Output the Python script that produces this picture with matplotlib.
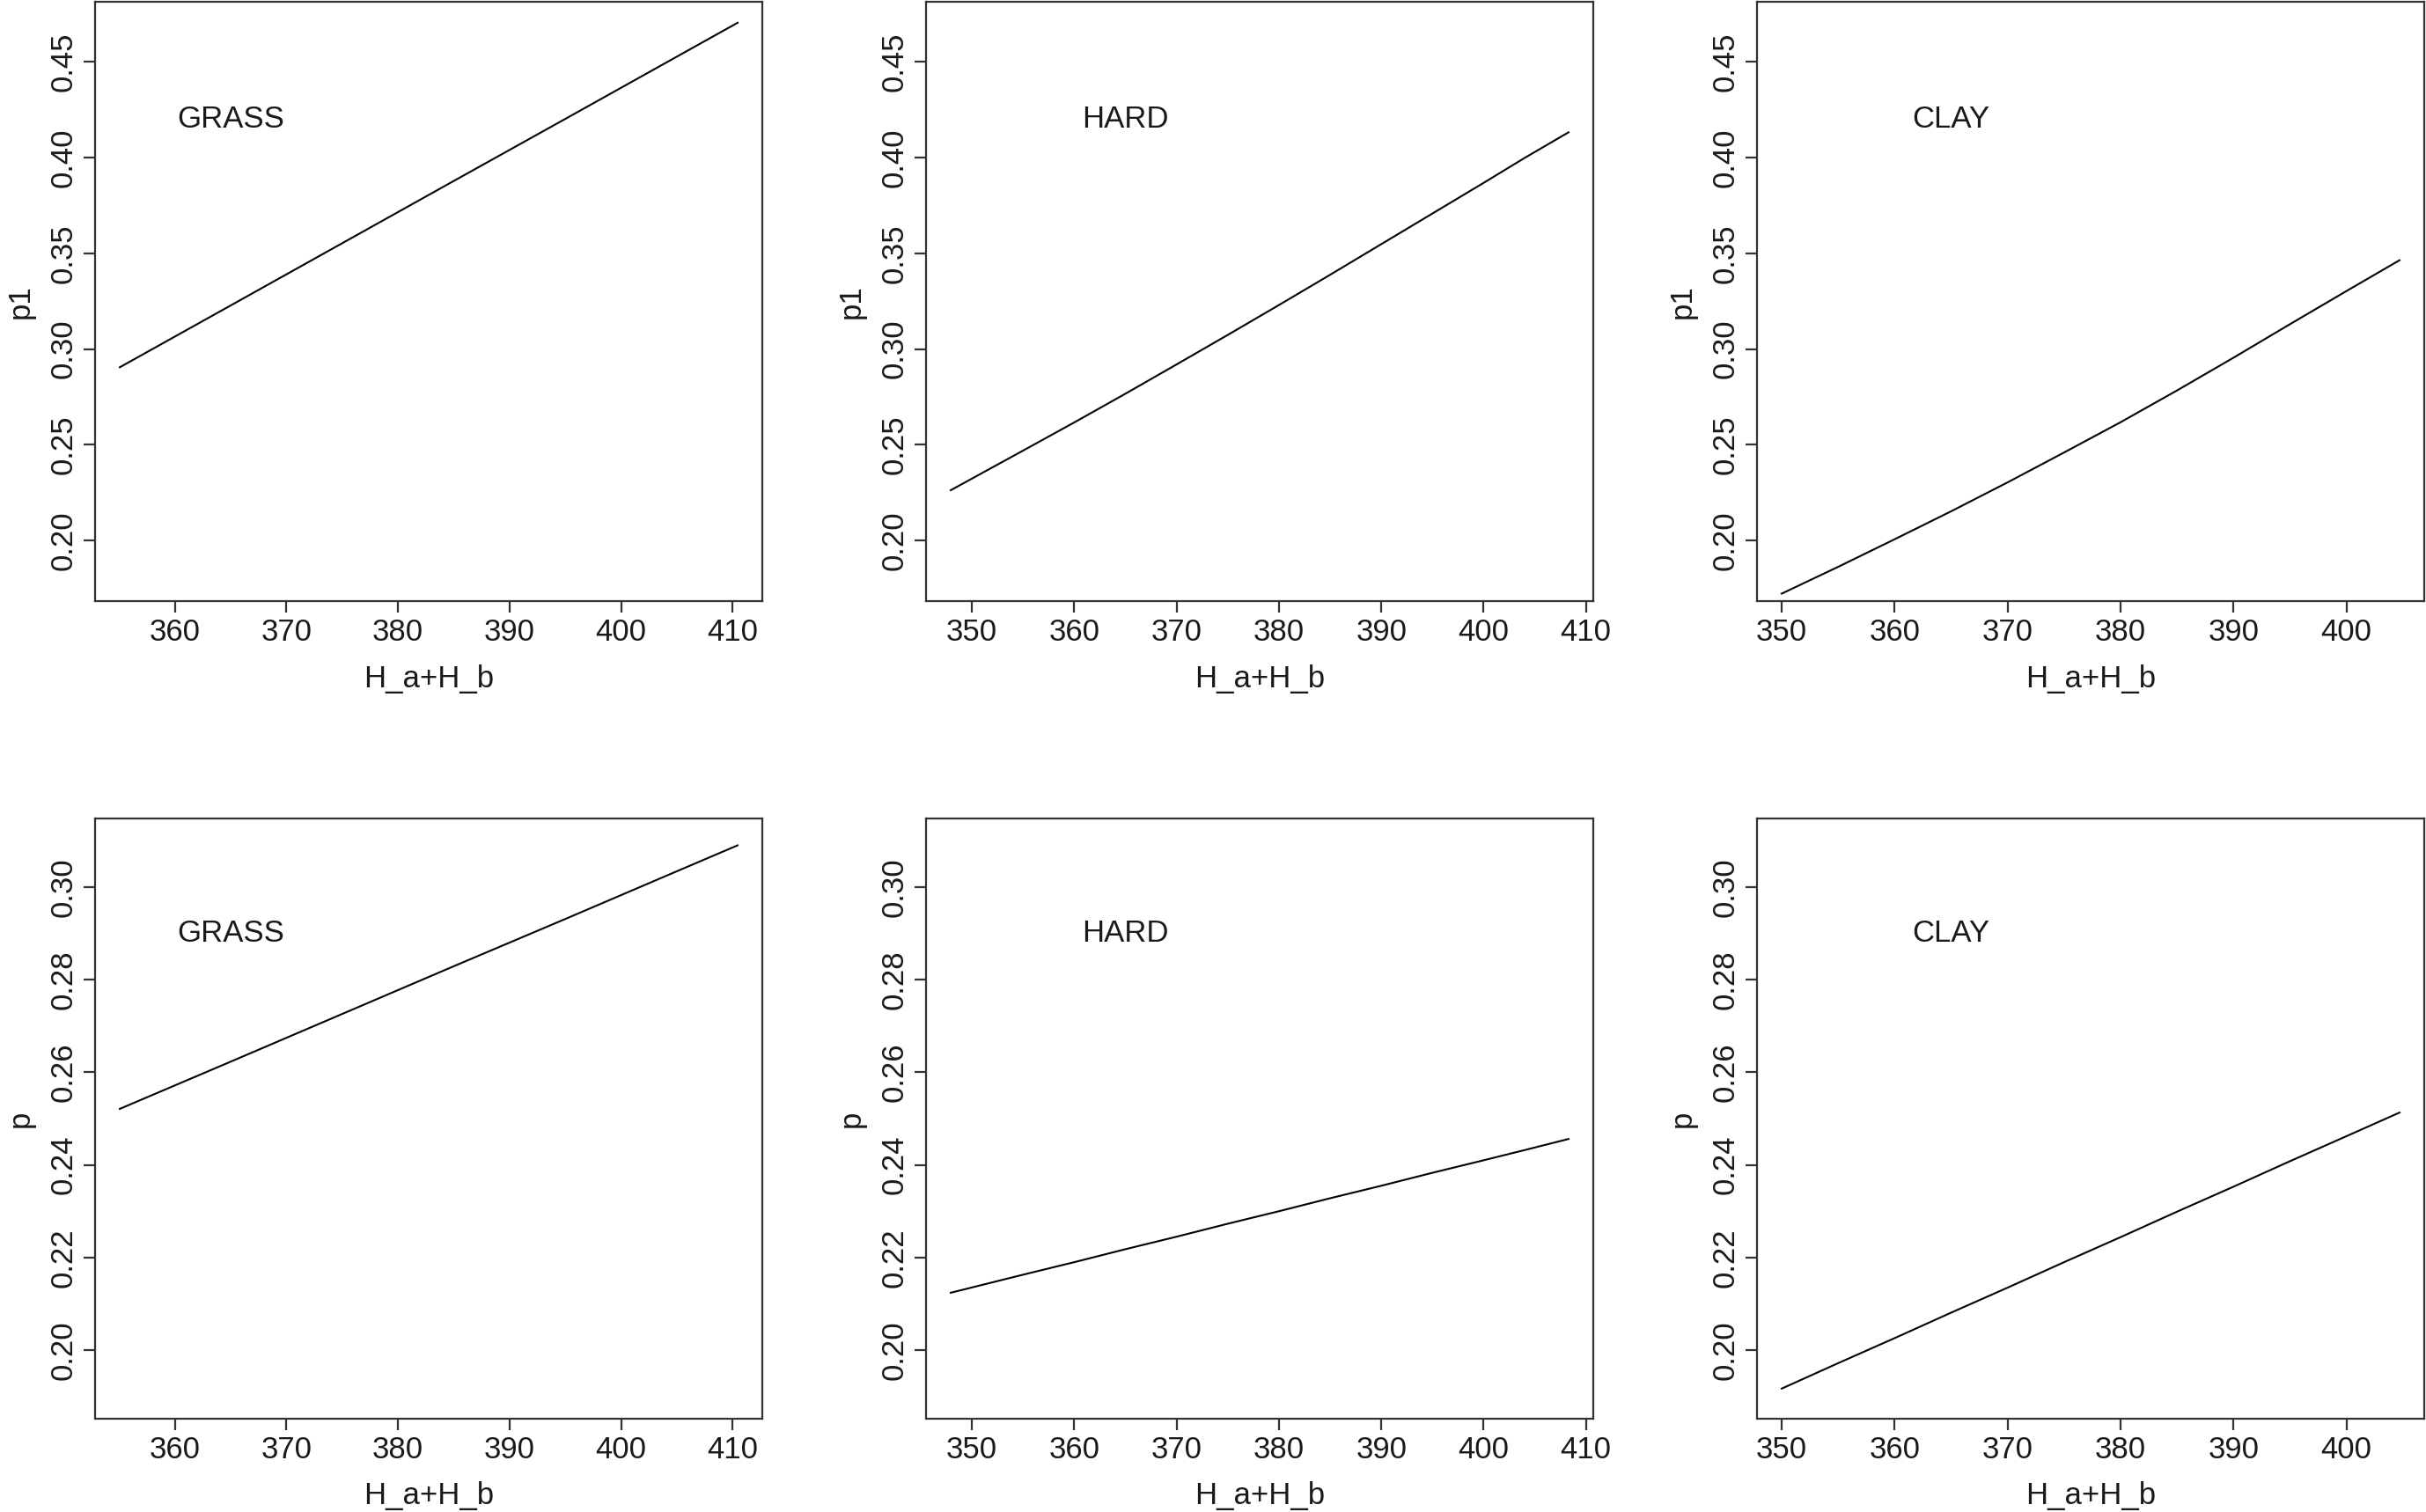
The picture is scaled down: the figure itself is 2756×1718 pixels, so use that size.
import matplotlib
matplotlib.use('Agg')
import matplotlib.pyplot as plt
import numpy as np

plt.rcParams['font.family'] = ['Liberation Sans', 'DejaVu Sans']

# ---------------- data ----------------
surfaces = ['GRASS', 'HARD', 'CLAY']

grass_h = [355.05, 365, 375, 385, 395, 405, 410.45]
grass_p1 = [0.2905, 0.3228, 0.3553, 0.3878, 0.4202, 0.4527, 0.4704]
grass_p = [0.2521, 0.2623, 0.2726, 0.2829, 0.2931, 0.3034, 0.3090]

hard_h = [347.93, 355, 360, 365, 370, 375, 380, 385, 390, 395, 400, 404, 408.3]
hard_p1 = [0.2263, 0.2470, 0.2617, 0.2767, 0.2920, 0.3074, 0.3230, 0.3388,
           0.3548, 0.3708, 0.3868, 0.3998, 0.4132]
hard_p = [0.2124, 0.2163, 0.2190, 0.2218, 0.2245, 0.2273, 0.2300, 0.2328,
          0.2355, 0.2383, 0.2410, 0.2432, 0.2456]

clay_h = [350.0, 355, 360, 365, 370, 375, 380, 385, 390, 395, 400, 404.7]
clay_p1 = [0.1723, 0.1863, 0.2007, 0.2153, 0.2304, 0.2460, 0.2618, 0.2784,
           0.2955, 0.3130, 0.3303, 0.3464]
clay_p = [0.1917, 0.1972, 0.2026, 0.2081, 0.2135, 0.2190, 0.2244, 0.2299,
          0.2353, 0.2408, 0.2462, 0.2513]

row_ylabels = ['p1', 'p']
row_yrange = [(0.18, 0.47), (0.19, 0.31)]
row_yticks = [[0.20, 0.25, 0.30, 0.35, 0.40, 0.45],
              [0.20, 0.22, 0.24, 0.26, 0.28, 0.30]]
x_ticks = [350, 360, 370, 380, 390, 400, 410]
label_y = [0.42, 0.29]
label_x = 365
xlabel = 'H_a+H_b'

series = {
    'GRASS': (grass_h, grass_p1, grass_p),
    'HARD': (hard_h, hard_p1, hard_p),
    'CLAY': (clay_h, clay_p1, clay_p),
}

# ---------------- layout ----------------
W, H = 2756, 1718
DPI = 200
fig = plt.figure(figsize=(W / DPI, H / DPI), dpi=DPI)
fig.patch.set_facecolor('white')

col_left = [108, 1052, 1996]
width_px = 758
rows = [(1.5, 683), (930, 1612)]

TXT = '#1a1a1a'
BOX = '#333333'
FS = 12.5

for r, (top, bottom) in enumerate(rows):
    for c, name in enumerate(surfaces):
        left = col_left[c]
        ax = fig.add_axes([left / W, 1 - bottom / H, width_px / W, (bottom - top) / H])
        h, p1, p = series[name]
        y = p1 if r == 0 else p
        ax.plot(h, y, color='black', lw=0.75)

        xmin, xmax = min(h), max(h)
        dx = 0.04 * (xmax - xmin)
        ax.set_xlim(xmin - dx, xmax + dx)
        ylo, yhi = row_yrange[r]
        dy = 0.04 * (yhi - ylo)
        ax.set_ylim(ylo - dy, yhi + dy)

        xt = [t for t in x_ticks if xmin - dx <= t <= xmax + dx]
        ax.set_xticks(xt)
        ax.set_xticklabels([str(t) for t in xt])
        ax.set_yticks(row_yticks[r])
        ax.set_yticklabels(['%.2f' % t for t in row_yticks[r]])

        for s in ax.spines.values():
            s.set_color(BOX)
            s.set_linewidth(0.8)
        ax.tick_params(axis='both', direction='out', length=4.7, width=0.8,
                       color=BOX, labelsize=FS, labelcolor=TXT)
        ax.tick_params(axis='x', pad=2.3)
        ax.tick_params(axis='y', pad=2.2)
        for lab in ax.get_yticklabels():
            lab.set_rotation(90)
            lab.set_va('center')
            lab.set_ha('right')

        ax.set_xlabel(xlabel, fontsize=FS, color=TXT, va='center')
        ax.xaxis.set_label_coords(0.5, -88 / (bottom - top))
        ax.set_ylabel(row_ylabels[r], fontsize=FS, color=TXT, va='center')
        ax.yaxis.set_label_coords(-85 / width_px, 0.5)

        ax.text(label_x, label_y[r], name, fontsize=FS, color=TXT,
                ha='center', va='center')

fig.savefig('out.png', dpi=DPI, facecolor='white')
